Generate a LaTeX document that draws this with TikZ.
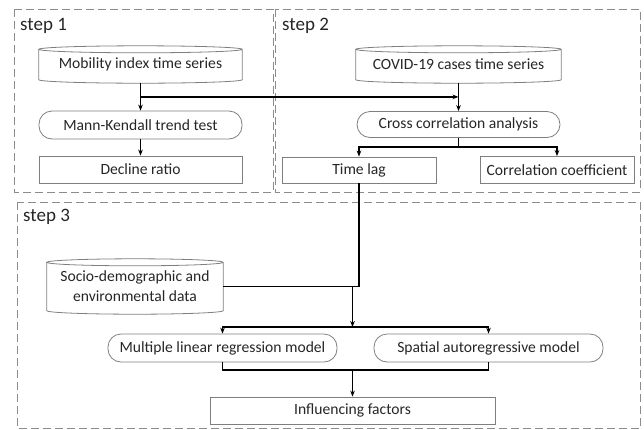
\documentclass[tikz,border=0pt]{standalone}
\usepackage{fontspec}
\setmainfont{Carlito}
\usetikzlibrary{arrows.meta,calc}

\definecolor{edgegray}{HTML}{7F7F7F}
\definecolor{framegray}{HTML}{8C8C8C}
\definecolor{txtgray}{HTML}{262626}

\tikzset{
  box/.style={draw=edgegray, line width=0.8pt, minimum height=27pt, inner sep=0pt,
    text=txtgray, font=\fontsize{15.6}{20}\selectfont, align=center},
  rbox/.style={box, rounded corners=13pt},
  cylbox/.style={inner sep=0pt, minimum height=37pt, text=txtgray,
    font=\fontsize{15.6}{20}\selectfont, align=center},
  stepframe/.style={draw=framegray, line width=0.9pt, dash pattern=on 8pt off 4pt},
  steplab/.style={anchor=west, inner sep=0pt, text=txtgray, font=\fontsize{19}{22}\selectfont},
  link/.style={line width=1.3pt},
  arr/.style={link, -{Stealth[length=6pt,width=4.6pt]}}
}

\newcommand{\cylout}[1]{%
  \draw [draw=edgegray, line width=0.8pt]
    let \p1=(#1.north west), \p2=(#1.south east), \n1={(\x2-\x1)/2} in
    (\x1,\y1-3.5pt) -- (\x1,\y2+3.5pt)
    arc [start angle=180, end angle=360, x radius=\n1, y radius=3.5pt]
    -- (\x2,\y1-3.5pt)
    arc [start angle=0, end angle=180, x radius=\n1, y radius=3.5pt]
    arc [start angle=180, end angle=360, x radius=\n1, y radius=3.5pt];}

\begin{document}
\begin{tikzpicture}[x=1pt, y=-1pt]
  \useasboundingbox (0, 0) rectangle (644, 429);

  \begin{scope}
    \draw [stepframe] (14, 9) rectangle (273, 192);
    \node (lab1) at (20, 26) [steplab] {step 1};
    \node (mob) at (140.5, 64.5) [cylbox, minimum width=203pt] {Mobility index time series};
    \node (mk) at (140.5, 125) [rbox, minimum width=203pt, minimum height=28pt] {Mann-Kendall trend test};
    \node (dec) at (140.5, 169.5) [box, minimum width=203pt] {Decline ratio};
    \cylout{mob}
  \end{scope}

  \begin{scope}
    \draw [stepframe] (275, 9) rectangle (640, 192);
    \node (lab2) at (282, 26) [steplab] {step 2};
    \node (cov) at (458.5, 64.5) [cylbox, minimum width=205pt] {COVID-19 cases time series};
    \node (cca) at (458.5, 124.5) [rbox, minimum width=203pt, minimum height=26pt] {Cross correlation analysis};
    \node (lag) at (359, 170) [box, minimum width=154pt, minimum height=26pt] {Time lag};
    \node (coef) at (557, 170) [box, minimum width=154pt] {Correlation coefficient};
    \cylout{cov}
  \end{scope}

  \begin{scope}
    \draw [stepframe] (17, 202) rectangle (640, 428.5);
    \node (lab3) at (23, 217) [steplab] {step 3};
    \node (soc) at (135, 286.5) [cylbox, minimum width=176pt, minimum height=55pt] {Socio-demographic and\\environmental data};
    \node (mlr) at (222.5, 348) [rbox, minimum width=229pt, minimum height=28pt] {Multiple linear regression model};
    \node (sar) at (488.5, 348) [rbox, minimum width=229pt, minimum height=28pt] {Spatial autoregressive model};
    \node (inf) at (352.5, 410.5) [box, minimum width=285pt] {Influencing factors};
    \cylout{soc}
  \end{scope}

  \coordinate (jn) at ($(mob.south)!0.5!(mk.north)$);
  \draw [arr] (mob.south) -- (mk.north);
  \draw [arr] (mk.south) -- (dec.north);
  \draw [arr] (jn) -- (jn -| cca.north);
  \draw [arr] (cov.south) -- (cca.north);
  \draw [arr] (cca.south) -- ++(0, 9) -| (lag.north);
  \draw [arr] (cca.south) -- ++(0, 9) -| (coef.north);

  \coordinate (bus) at (0, 327);
  \coordinate (bot) at (0, 370);
  \draw [link] (lag.south) |- (soc.east);
  \draw [arr] (soc.east -| inf.north) -- (bus -| inf.north);
  \draw [arr] (bus -| inf.north) -| (mlr.north);
  \draw [arr] (bus -| inf.north) -| (sar.north);
  \draw [link] (mlr.south) |- (bot -| sar.south) -- (sar.south);
  \draw [arr] (bot -| inf.north) -- (inf.north);
\end{tikzpicture}
\end{document}
